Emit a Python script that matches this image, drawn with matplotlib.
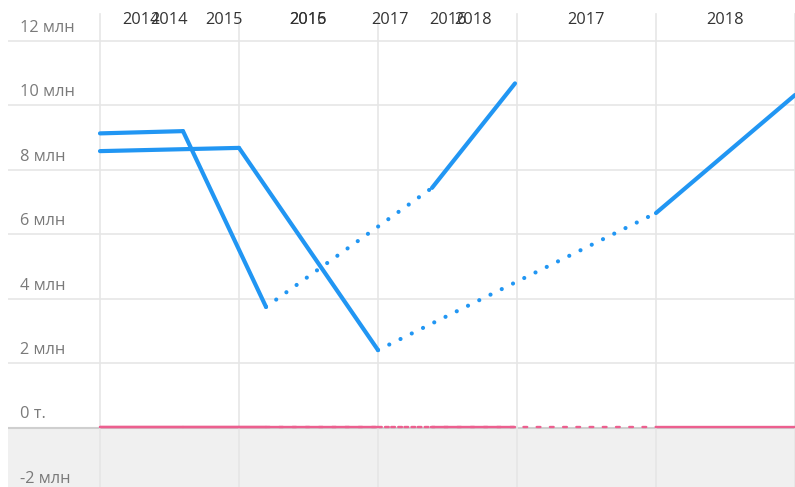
import matplotlib
matplotlib.use("Agg")
import matplotlib.pyplot as plt
import numpy as np

plt.rcParams['font.family'] = ['Open Sans', 'DejaVu Sans']

# ---- data (values in millions) ----
years = ["2014", "2015", "2016", "2017", "2018"]
series_a = [8.57, 8.67, 2.40, None, 6.65, 10.31]   # wide axis
series_b = [9.12, 9.19, 3.74, None, 7.43, 10.67]   # narrow axis
zero_a = [0, 0, 0, None, 0, 0]
zero_b = [0, 0, 0, None, 0, 0]
y_ticks = [-2, 0, 2, 4, 6, 8, 10, 12]
y_labels = ["-2 млн", "0 т.", "2 млн", "4 млн", "6 млн", "8 млн", "10 млн", "12 млн"]

BLUE = "#2196f3"
PINK = "#ec5f8f"
W, H = 795, 487
YMIN, YMAX = -1.845, 13.256

fig = plt.figure(figsize=(W / 100, H / 100), dpi=100)

# background axes: grid, y labels, negative shading
bg = fig.add_axes([8 / W, 0, 1 - 8 / W, 1])
bg.set_xlim(0, 1)
bg.set_ylim(YMIN, YMAX)
bg.axis('off')
bg.axhspan(YMIN, -0.03, color="#f0f0f0", zorder=0)
for t in y_ticks:
    if t == 0:
        bg.axhline(-0.03, color="#cfcfcf", lw=1.5, zorder=1)
    elif t > YMIN:
        bg.axhline(t, color="#e6e6e6", lw=1.2, zorder=1)
for t, lab in zip(y_ticks, y_labels):
    bg.annotate(lab, xy=(0, t), xytext=(12 * 0.72, 13 * 0.72),
                textcoords='offset points', ha='left', va='center',
                fontsize=11.8, color="#7a7a7a", annotation_clip=False)


def make_ax(left_px, right_px):
    ax = fig.add_axes([left_px / W, 0, (right_px - left_px) / W, 1])
    ax.set_xlim(0, 5)
    ax.set_ylim(YMIN, YMAX)
    ax.patch.set_alpha(0)
    ax.axis('off')
    return ax


ax_a = make_ax(100, 795)
ax_b = make_ax(100, 515)

# vertical grid lines from the wide axis
top_val = YMAX - 14 / H * (YMAX - YMIN)
for i in range(6):
    ax_a.plot([i, i], [YMIN, top_val], color="#e6e6e6", lw=1.2, zorder=1,
              clip_on=False)


def draw_series(ax, vals, color, z, lw, dots):
    idx = [i for i, v in enumerate(vals) if v is not None]
    for a, b in zip(idx[:-1], idx[1:]):
        xs = [a, b]
        ys = [vals[a], vals[b]]
        if b - a == 1:
            ax.plot(xs, ys, color=color, lw=lw, solid_capstyle='round',
                    zorder=z, clip_on=False)
        else:
            ax.plot(xs, ys, color=color, lw=lw, dashes=dots,
                    dash_capstyle='round', zorder=z, clip_on=False)


draw_series(ax_a, series_a, BLUE, 3, 3.0, (0.01, 3.0))
draw_series(ax_b, series_b, BLUE, 3, 3.0, (0.01, 3.0))
draw_series(ax_a, zero_a, PINK, 4, 1.7, (1.6, 4.0))
draw_series(ax_b, zero_b, PINK, 4, 1.7, (1.6, 4.0))

# category labels at interval midpoints
label_val = YMAX - 19.5 / H * (YMAX - YMIN)
for ax in (ax_b, ax_a):
    for i, y in enumerate(years):
        ax.text(i + 0.5, label_val, y, ha='center', va='center',
                fontsize=11.8, color="#333333", zorder=5)

fig.savefig("out.png", dpi=100)
